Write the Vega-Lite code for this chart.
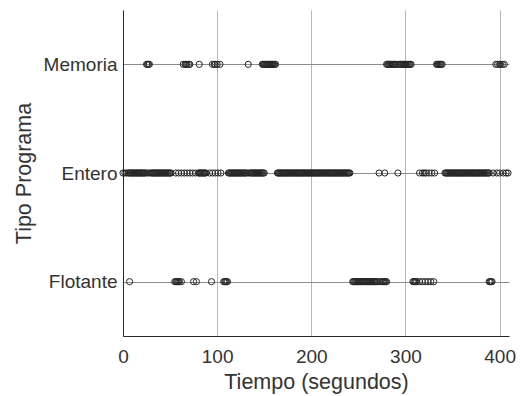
{
  "$schema": "https://vega.github.io/schema/vega-lite/v6.json",
  "width": 386,
  "height": 326,
  "autosize": {"type": "none"},
  "padding": {"left": 123, "top": 10, "right": 17, "bottom": 60},
  "background": "white",
  "config": {
    "view": {"stroke": null},
    "font": "Liberation Sans",
    "axis": {
      "labelFont": "Liberation Sans",
      "titleFont": "Liberation Sans",
      "labelColor": "#333333",
      "titleColor": "#333333",
      "titleFontWeight": "normal",
      "domainColor": "#262626",
      "domainWidth": 1,
      "ticks": false,
      "tickSize": 0
    }
  },
  "data": {
    "values": [
      {"p":"Memoria","t":25},{"p":"Memoria","t":26},{"p":"Memoria","t":27},{"p":"Memoria","t":28},
      {"p":"Memoria","t":64},{"p":"Memoria","t":66},{"p":"Memoria","t":67},{"p":"Memoria","t":68},{"p":"Memoria","t":70},{"p":"Memoria","t":71},
      {"p":"Memoria","t":81},
      {"p":"Memoria","t":95},{"p":"Memoria","t":97},{"p":"Memoria","t":98},{"p":"Memoria","t":100},{"p":"Memoria","t":103},
      {"p":"Memoria","t":133},
      {"p":"Memoria","t":148},{"p":"Memoria","t":149},{"p":"Memoria","t":150},{"p":"Memoria","t":151},{"p":"Memoria","t":152},{"p":"Memoria","t":153},{"p":"Memoria","t":154},{"p":"Memoria","t":155},{"p":"Memoria","t":156},{"p":"Memoria","t":157},{"p":"Memoria","t":158},{"p":"Memoria","t":159},{"p":"Memoria","t":160},{"p":"Memoria","t":161},{"p":"Memoria","t":162},
      {"p":"Memoria","t":280},{"p":"Memoria","t":281},{"p":"Memoria","t":282},{"p":"Memoria","t":283},{"p":"Memoria","t":284},{"p":"Memoria","t":285},{"p":"Memoria","t":286},{"p":"Memoria","t":287},{"p":"Memoria","t":288},{"p":"Memoria","t":289},{"p":"Memoria","t":290},{"p":"Memoria","t":292},{"p":"Memoria","t":294},{"p":"Memoria","t":295},{"p":"Memoria","t":296},{"p":"Memoria","t":297},{"p":"Memoria","t":298},{"p":"Memoria","t":299},{"p":"Memoria","t":300},{"p":"Memoria","t":301},{"p":"Memoria","t":302},{"p":"Memoria","t":303},{"p":"Memoria","t":304},{"p":"Memoria","t":305},{"p":"Memoria","t":306},
      {"p":"Memoria","t":333},{"p":"Memoria","t":334},{"p":"Memoria","t":335},{"p":"Memoria","t":336},{"p":"Memoria","t":337},{"p":"Memoria","t":338},{"p":"Memoria","t":339},
      {"p":"Memoria","t":396},{"p":"Memoria","t":398},{"p":"Memoria","t":400},{"p":"Memoria","t":401},{"p":"Memoria","t":403},{"p":"Memoria","t":405},

      {"p":"Entero","t":0},{"p":"Entero","t":2},{"p":"Entero","t":4},{"p":"Entero","t":6},{"p":"Entero","t":7},{"p":"Entero","t":8},{"p":"Entero","t":9},{"p":"Entero","t":10},{"p":"Entero","t":11},{"p":"Entero","t":12},{"p":"Entero","t":13},{"p":"Entero","t":14},{"p":"Entero","t":15},{"p":"Entero","t":16},{"p":"Entero","t":17},{"p":"Entero","t":18},{"p":"Entero","t":19},{"p":"Entero","t":20},{"p":"Entero","t":21},{"p":"Entero","t":22},{"p":"Entero","t":23},{"p":"Entero","t":24},{"p":"Entero","t":26},{"p":"Entero","t":28},{"p":"Entero","t":30},{"p":"Entero","t":31},{"p":"Entero","t":32},{"p":"Entero","t":33},{"p":"Entero","t":34},{"p":"Entero","t":35},{"p":"Entero","t":36},{"p":"Entero","t":37},{"p":"Entero","t":38},{"p":"Entero","t":39},{"p":"Entero","t":40},{"p":"Entero","t":41},{"p":"Entero","t":42},{"p":"Entero","t":43},{"p":"Entero","t":44},{"p":"Entero","t":45},{"p":"Entero","t":46},{"p":"Entero","t":47},{"p":"Entero","t":48},{"p":"Entero","t":49},{"p":"Entero","t":50},{"p":"Entero","t":51},
      {"p":"Entero","t":56},{"p":"Entero","t":59},{"p":"Entero","t":62},{"p":"Entero","t":65},{"p":"Entero","t":68},{"p":"Entero","t":71},{"p":"Entero","t":74},{"p":"Entero","t":77},
      {"p":"Entero","t":80},{"p":"Entero","t":81},{"p":"Entero","t":82},{"p":"Entero","t":83},{"p":"Entero","t":84},{"p":"Entero","t":85},{"p":"Entero","t":86},{"p":"Entero","t":87},{"p":"Entero","t":88},
      {"p":"Entero","t":92},{"p":"Entero","t":95},{"p":"Entero","t":98},{"p":"Entero","t":101},{"p":"Entero","t":104},
      {"p":"Entero","t":112},{"p":"Entero","t":113},{"p":"Entero","t":114},{"p":"Entero","t":115},{"p":"Entero","t":116},{"p":"Entero","t":117},{"p":"Entero","t":118},{"p":"Entero","t":119},{"p":"Entero","t":120},{"p":"Entero","t":121},{"p":"Entero","t":122},{"p":"Entero","t":123},{"p":"Entero","t":124},{"p":"Entero","t":125},{"p":"Entero","t":126},{"p":"Entero","t":127},{"p":"Entero","t":128},{"p":"Entero","t":129},{"p":"Entero","t":130},{"p":"Entero","t":131},{"p":"Entero","t":133},{"p":"Entero","t":135},{"p":"Entero","t":136},{"p":"Entero","t":137},{"p":"Entero","t":138},{"p":"Entero","t":139},{"p":"Entero","t":140},{"p":"Entero","t":141},{"p":"Entero","t":142},{"p":"Entero","t":143},{"p":"Entero","t":144},{"p":"Entero","t":145},{"p":"Entero","t":146},{"p":"Entero","t":147},{"p":"Entero","t":148},{"p":"Entero","t":149},{"p":"Entero","t":150},
      {"p":"Entero","t":164},{"p":"Entero","t":165},{"p":"Entero","t":166},{"p":"Entero","t":167},{"p":"Entero","t":168},{"p":"Entero","t":169},{"p":"Entero","t":170},{"p":"Entero","t":171},{"p":"Entero","t":172},{"p":"Entero","t":173},{"p":"Entero","t":174},{"p":"Entero","t":175},{"p":"Entero","t":176},{"p":"Entero","t":177},{"p":"Entero","t":178},{"p":"Entero","t":179},{"p":"Entero","t":180},{"p":"Entero","t":181},{"p":"Entero","t":182},{"p":"Entero","t":183},{"p":"Entero","t":184},{"p":"Entero","t":185},{"p":"Entero","t":186},{"p":"Entero","t":187},{"p":"Entero","t":188},{"p":"Entero","t":189},{"p":"Entero","t":190},{"p":"Entero","t":191},{"p":"Entero","t":192},{"p":"Entero","t":193},{"p":"Entero","t":194},{"p":"Entero","t":195},{"p":"Entero","t":196},{"p":"Entero","t":197},{"p":"Entero","t":198},{"p":"Entero","t":199},{"p":"Entero","t":200},{"p":"Entero","t":201},{"p":"Entero","t":202},{"p":"Entero","t":203},{"p":"Entero","t":204},{"p":"Entero","t":205},{"p":"Entero","t":206},{"p":"Entero","t":207},{"p":"Entero","t":208},{"p":"Entero","t":209},{"p":"Entero","t":210},{"p":"Entero","t":211},{"p":"Entero","t":212},{"p":"Entero","t":213},{"p":"Entero","t":214},{"p":"Entero","t":215},{"p":"Entero","t":216},{"p":"Entero","t":217},{"p":"Entero","t":218},{"p":"Entero","t":219},{"p":"Entero","t":220},{"p":"Entero","t":221},{"p":"Entero","t":222},{"p":"Entero","t":223},{"p":"Entero","t":224},{"p":"Entero","t":225},{"p":"Entero","t":226},{"p":"Entero","t":227},{"p":"Entero","t":228},{"p":"Entero","t":229},{"p":"Entero","t":230},{"p":"Entero","t":231},{"p":"Entero","t":232},{"p":"Entero","t":233},{"p":"Entero","t":234},{"p":"Entero","t":235},{"p":"Entero","t":236},{"p":"Entero","t":237},{"p":"Entero","t":238},{"p":"Entero","t":239},{"p":"Entero","t":240},{"p":"Entero","t":241},
      {"p":"Entero","t":272},{"p":"Entero","t":278},{"p":"Entero","t":292},
      {"p":"Entero","t":315},{"p":"Entero","t":318},{"p":"Entero","t":320},{"p":"Entero","t":322},{"p":"Entero","t":325},{"p":"Entero","t":328},{"p":"Entero","t":331},
      {"p":"Entero","t":342},{"p":"Entero","t":343},{"p":"Entero","t":344},{"p":"Entero","t":345},{"p":"Entero","t":346},{"p":"Entero","t":347},{"p":"Entero","t":348},{"p":"Entero","t":349},{"p":"Entero","t":350},{"p":"Entero","t":351},{"p":"Entero","t":352},{"p":"Entero","t":353},{"p":"Entero","t":354},{"p":"Entero","t":355},{"p":"Entero","t":356},{"p":"Entero","t":357},{"p":"Entero","t":358},{"p":"Entero","t":359},{"p":"Entero","t":360},{"p":"Entero","t":361},{"p":"Entero","t":362},{"p":"Entero","t":363},{"p":"Entero","t":364},{"p":"Entero","t":365},{"p":"Entero","t":366},{"p":"Entero","t":367},{"p":"Entero","t":368},{"p":"Entero","t":369},{"p":"Entero","t":370},{"p":"Entero","t":371},{"p":"Entero","t":372},{"p":"Entero","t":373},{"p":"Entero","t":374},{"p":"Entero","t":375},{"p":"Entero","t":376},{"p":"Entero","t":377},{"p":"Entero","t":378},{"p":"Entero","t":379},{"p":"Entero","t":380},{"p":"Entero","t":381},{"p":"Entero","t":382},{"p":"Entero","t":383},{"p":"Entero","t":384},{"p":"Entero","t":385},{"p":"Entero","t":386},{"p":"Entero","t":387},{"p":"Entero","t":388},{"p":"Entero","t":389},
      {"p":"Entero","t":393},{"p":"Entero","t":397},{"p":"Entero","t":400},{"p":"Entero","t":404},{"p":"Entero","t":407},{"p":"Entero","t":409},

      {"p":"Flotante","t":7},
      {"p":"Flotante","t":55},{"p":"Flotante","t":56},{"p":"Flotante","t":57},{"p":"Flotante","t":58},{"p":"Flotante","t":59},{"p":"Flotante","t":60},{"p":"Flotante","t":62},
      {"p":"Flotante","t":75},{"p":"Flotante","t":78},
      {"p":"Flotante","t":94},
      {"p":"Flotante","t":107},{"p":"Flotante","t":108},{"p":"Flotante","t":109},{"p":"Flotante","t":110},{"p":"Flotante","t":111},
      {"p":"Flotante","t":244},{"p":"Flotante","t":245},{"p":"Flotante","t":246},{"p":"Flotante","t":247},{"p":"Flotante","t":248},{"p":"Flotante","t":249},{"p":"Flotante","t":250},{"p":"Flotante","t":251},{"p":"Flotante","t":252},{"p":"Flotante","t":253},{"p":"Flotante","t":254},{"p":"Flotante","t":255},{"p":"Flotante","t":256},{"p":"Flotante","t":257},{"p":"Flotante","t":258},{"p":"Flotante","t":259},{"p":"Flotante","t":260},{"p":"Flotante","t":261},{"p":"Flotante","t":262},{"p":"Flotante","t":263},{"p":"Flotante","t":264},{"p":"Flotante","t":265},{"p":"Flotante","t":266},{"p":"Flotante","t":267},{"p":"Flotante","t":268},{"p":"Flotante","t":269},{"p":"Flotante","t":270},{"p":"Flotante","t":273},{"p":"Flotante","t":275},{"p":"Flotante","t":276},{"p":"Flotante","t":277},{"p":"Flotante","t":278},{"p":"Flotante","t":279},{"p":"Flotante","t":280},
      {"p":"Flotante","t":308},{"p":"Flotante","t":309},{"p":"Flotante","t":310},{"p":"Flotante","t":311},{"p":"Flotante","t":312},{"p":"Flotante","t":315},{"p":"Flotante","t":318},{"p":"Flotante","t":321},{"p":"Flotante","t":324},{"p":"Flotante","t":327},{"p":"Flotante","t":330},
      {"p":"Flotante","t":389},{"p":"Flotante","t":390},{"p":"Flotante","t":391},{"p":"Flotante","t":392}
    ]
  },
  "mark": {"type": "point", "shape": "circle", "filled": false, "stroke": "#262626", "strokeWidth": 1, "opacity": 1, "size": 38},
  "encoding": {
    "x": {
      "field": "t", "type": "quantitative",
      "scale": {"domain": [0, 410], "nice": false, "zero": false},
      "axis": {
        "title": "Tiempo (segundos)",
        "values": [0, 100, 200, 300, 400],
        "labelFontSize": 19,
        "titleFontSize": 21.5,
        "labelPadding": 11,
        "labelFlush": false,
        "titleY": 35,
        "grid": true,
        "gridColor": "#b8b8b8",
        "gridWidth": 1
      }
    },
    "y": {
      "field": "p", "type": "nominal",
      "sort": ["Memoria", "Entero", "Flotante"],
      "scale": {"type": "point", "padding": 0.5},
      "axis": {
        "title": "Tipo Programa",
        "labelFontSize": 19,
        "titleFontSize": 21.5,
        "labelPadding": 6,
        "titleX": -88,
        "grid": true,
        "gridColor": "#8c8c8c",
        "gridWidth": 1
      }
    }
  }
}
